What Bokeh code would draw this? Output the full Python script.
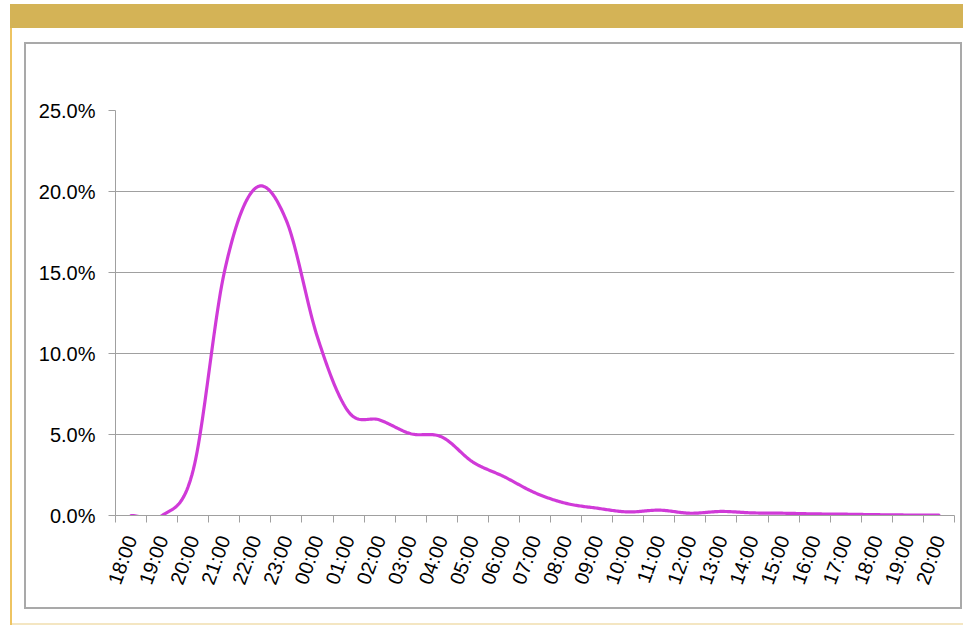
import math
from bokeh.plotting import figure
from bokeh.models import (Range1d, FixedTicker, NumeralTickFormatter, ColumnDataSource, Div)
from bokeh.layouts import row, column
from bokeh.embed import file_html
from bokeh.resources import INLINE

# ---- data ----
hours = ["18:00", "19:00", "20:00", "21:00", "22:00", "23:00", "00:00", "01:00",
         "02:00", "03:00", "04:00", "05:00", "06:00", "07:00", "08:00", "09:00",
         "10:00", "11:00", "12:00", "13:00", "14:00", "15:00", "16:00", "17:00",
         "18:00", "19:00", "20:00"]
share = [0.0, 0.0, 0.028, 0.150, 0.202, 0.182, 0.110, 0.064,
         0.059, 0.0505, 0.0485, 0.033, 0.024, 0.014, 0.0075, 0.0045,
         0.0022, 0.0033, 0.0014, 0.0025, 0.0016, 0.0014, 0.001, 0.0008,
         0.0005, 0.0003, 0.0002]
y_ticks = [0.0, 0.05, 0.10, 0.15, 0.20, 0.25]

# ---- smooth (Catmull-Rom, like Excel's smoothed line) ----
n = len(share)
idx = list(range(n))
xs, ys = [], []
steps = 24
for i in range(n - 1):
    p0 = share[i - 1] if i > 0 else share[i]
    p1 = share[i]
    p2 = share[i + 1]
    p3 = share[i + 2] if i + 2 < n else share[i + 1]
    c1 = p1 + (p2 - p0) / 6.0
    c2 = p2 - (p3 - p1) / 6.0
    for s in range(steps + (1 if i == n - 2 else 0)):
        t = s / steps
        mt = 1 - t
        y = mt**3 * p1 + 3 * mt**2 * t * c1 + 3 * mt * t**2 * c2 + t**3 * p2
        xs.append(idx[i] + t)
        ys.append(y)
src = ColumnDataSource(dict(x=xs, y=ys))

GOLD = "#d4b356"
GOLD_LINE = "#eec462"
CREAM = "#f4e6c2"
BOX = "#a9a9a9"


def blk(w, h, color=None):
    st = {"background-color": color} if color else {}
    return Div(text="", width=w, height=h, margin=0, styles=st)


# chart figure: occupies page x 26..960, y 44..607
FW, FH = 934, 563
p = figure(width=FW, height=FH, output_backend="svg", toolbar_location=None,
           x_range=Range1d(-0.5, n - 0.5), y_range=Range1d(0, 0.25),
           min_border_left=89, min_border_right=6, min_border_top=66,
           min_border_bottom=92, tools="", margin=0)
p.outline_line_color = None
p.background_fill_color = "white"
p.border_fill_color = "white"

p.line("x", "y", source=src, line_color="#d03ad8", line_width=3.2,
       line_join="round", line_cap="round")

grey = "#a0a0a0"
# y axis
p.yaxis.ticker = FixedTicker(ticks=y_ticks)
p.yaxis.formatter = NumeralTickFormatter(format="0.0%")
p.yaxis.axis_line_color = grey
p.yaxis.major_tick_line_color = grey
p.yaxis.major_tick_out = 7
p.yaxis.major_tick_in = 0
p.yaxis.minor_tick_line_color = None
p.yaxis.major_label_standoff = 13
p.yaxis.major_label_text_font = "Liberation Sans"
p.yaxis.major_label_text_font_size = "20px"
p.yaxis.major_label_text_color = "black"

# x axis
p.xaxis.ticker = FixedTicker(ticks=idx, minor_ticks=[i - 0.5 for i in range(n + 1)])
p.xaxis.major_label_overrides = {i: h for i, h in zip(idx, hours)}
p.xaxis.major_label_orientation = math.radians(70)
p.xaxis.axis_line_color = grey
p.xaxis.major_tick_line_color = None
p.xaxis.major_tick_out = 7
p.xaxis.major_tick_in = 0
p.xaxis.minor_tick_line_color = grey
p.xaxis.minor_tick_out = 7
p.xaxis.minor_tick_in = 0
p.xaxis.major_label_standoff = 14
p.xaxis.major_label_text_font = "Liberation Sans"
p.xaxis.major_label_text_font_size = "20px"
p.xaxis.major_label_text_color = "black"

p.xgrid.grid_line_color = None
p.ygrid.ticker = FixedTicker(ticks=y_ticks)
p.ygrid.grid_line_color = grey
p.ygrid.grid_line_width = 1

# ---- page frame built from blocks ----
boxed = row(
    blk(12, 567),                 # x 12..24
    blk(2, 567, BOX),             # x 24..26
    column(blk(FW, 2, BOX), p, blk(FW, 2, BOX), margin=0, spacing=0),
    blk(2, 567, BOX),             # x 960..962
    blk(1, 567),
    margin=0, spacing=0)

inner = column(
    blk(951, 14),                 # y 28..42
    boxed,                        # y 42..609
    blk(951, 14),                 # y 609..623
    blk(951, 2, CREAM),           # y 623..625
    margin=0, spacing=0)

body = row(blk(10, 597), blk(2, 597, GOLD_LINE), inner, margin=0, spacing=0)

page = column(
    blk(963, 4),
    row(blk(10, 24), blk(953, 24, GOLD), margin=0, spacing=0),
    body,
    margin=0, spacing=0)

open("out.html", "w").write(file_html(page, INLINE))
